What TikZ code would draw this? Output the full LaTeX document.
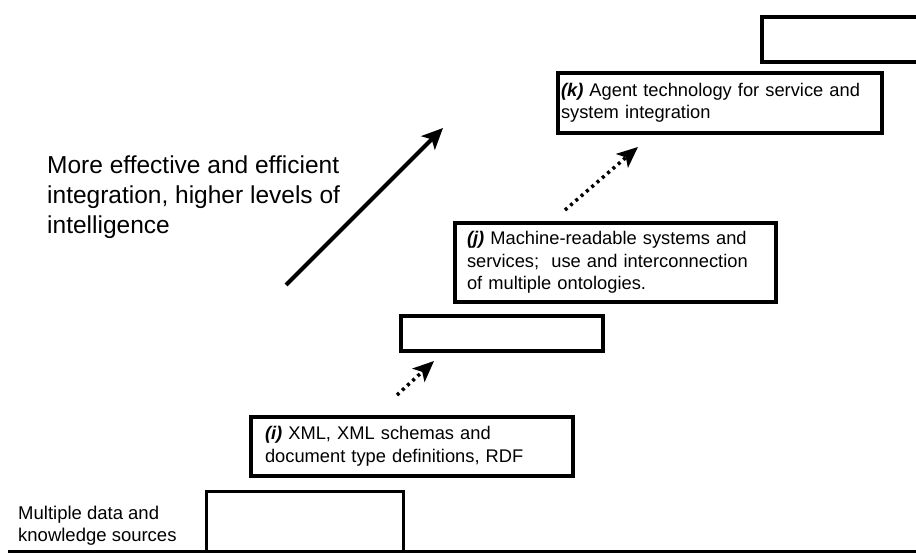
\documentclass[tikz,border=0pt]{standalone}
\usepackage{fontspec}
\setmainfont{Liberation Sans}
\usetikzlibrary{
    positioning,
    arrows.meta
}
\tikzset{
    >=Stealth,
    stepbox/.style={
        draw,
        line width=4pt,
        anchor=north west,
        align=left,
        inner ysep=0pt,
        font=\fontsize{18.3}{22.5}\selectfont
    },
    emptybox/.style={
        draw,
        line width=4pt,
        anchor=north west,
        inner sep=0pt
    },
    plaintext/.style={
        anchor=north west,
        align=left,
        inner sep=0pt
    }
}
\newcommand{\stagetag}[1]{\textbf{\textit{(#1)}}}

\begin{document}
\begin{tikzpicture}[
    x=1pt,
    y=-1pt,
    >=Stealth
]
    \useasboundingbox (0,0) rectangle (916,553);

    % Stufen
    \node[emptybox, line width=3pt,
          minimum width=197pt, minimum height=62pt] (sourcebox) at (204.5,489.5) {};
    \node[stepbox, text width=294pt, inner xsep=14pt,
          minimum height=59pt] (xml) at (249,415)
        {\stagetag{i} XML, XML schemas and\\document type definitions, RDF};
    \node[emptybox, minimum width=202pt, minimum height=35pt] (gapbox) at (399,314) {};
    \node[stepbox, text width=297pt, inner xsep=12pt,
          minimum height=79pt] (onto) at (453,221)
        {\stagetag{j} Machine-readable systems and\\services;~ use and interconnection\\of multiple ontologies.};
    \node[stepbox, text width=318pt, inner xsep=3pt,
          minimum height=60pt] (agent) at (556,71)
        {\stagetag{k} Agent technology for service and\\system integration};
    \node[emptybox, minimum width=200pt, minimum height=45pt] (topbox) at (760,15) {};

    % Texte
    \node[plaintext, font=\fontsize{18.5}{22}\selectfont] (sources) at (18,506)
        {Multiple data and\\knowledge sources};
    \node[plaintext, font=\fontsize{24.5}{30}\selectfont] (goal) at (47,156)
        {More effective and efficient\\integration, higher levels of\\intelligence};

    % Grundlinie
    \draw[line width=3pt] (8,551.5) -- (916,551.5);

    % Pfeile
    \coordinate (trendS) at (286,285);
    \coordinate (trendE) at (443,128);
    \draw[->, line width=4pt, >={Stealth[length=21pt, width=19pt, inset=5pt]}]
        (trendS) -- (trendE);

    \coordinate (stepAS) at (397,395);
    \coordinate (stepAE) at (434,361);
    \coordinate (stepBS) at (565,210);
    \coordinate (stepBE) at (638,147);
    \path[line width=3.5pt, dash pattern=on 3pt off 4pt,
          >={Stealth[length=21pt, width=18pt, inset=5pt]}]
        (stepAS) edge[->] (stepAE)
        (stepBS) edge[->] (stepBE);

\end{tikzpicture}
\end{document}
